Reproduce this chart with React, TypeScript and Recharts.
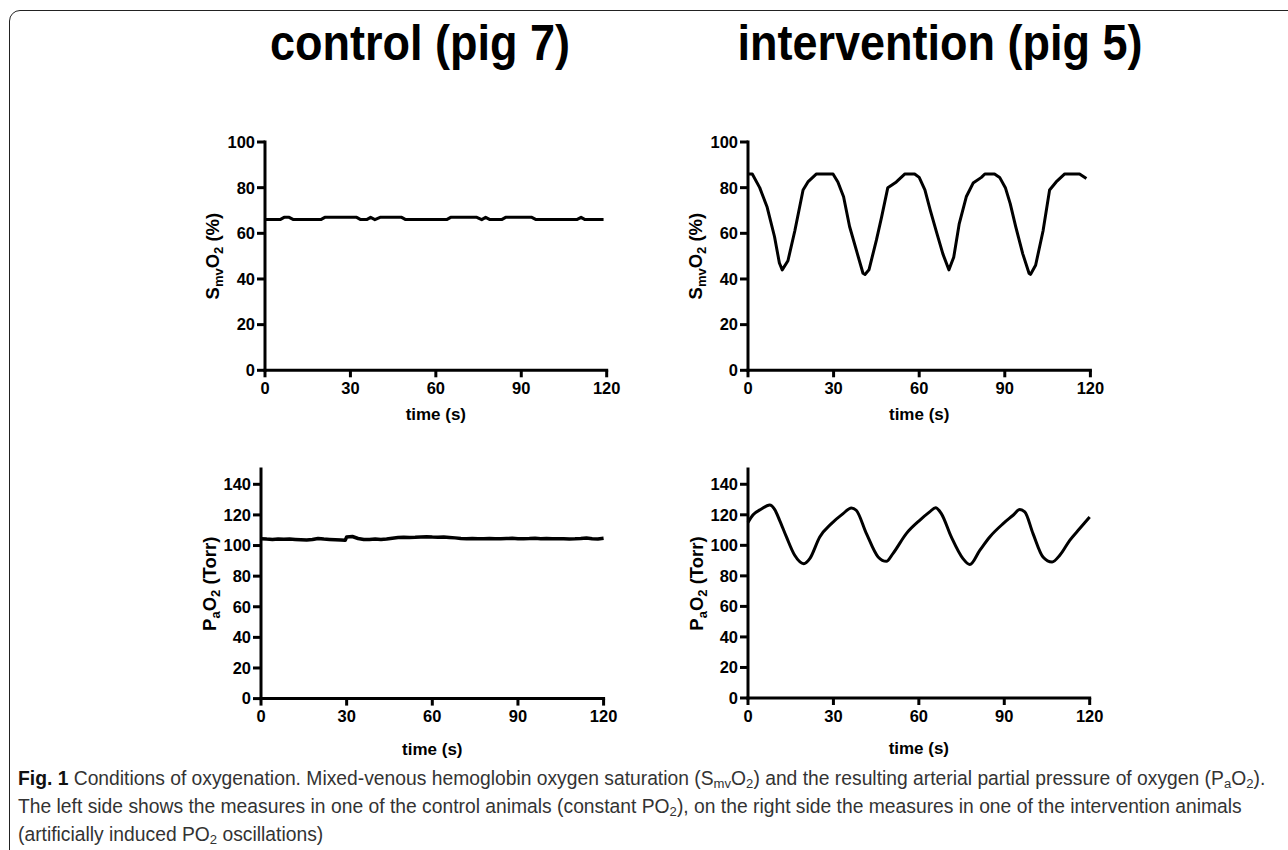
import React from 'react';
import { LineChart, Line, XAxis, YAxis, Label } from 'recharts';

// ---------- data ----------
const xTicks = [0, 30, 60, 90, 120];
const smvTicks = [0, 20, 40, 60, 80, 100];
const paTicks = [0, 20, 40, 60, 80, 100, 120, 140];

const ctrlSmvTime = [0, 5.3, 6.7, 8.5, 10, 19.6, 21, 32.2, 33.6, 35.7, 37.1, 38.6, 40.4, 48, 49.4, 63.8, 65.2, 74.4, 76.1, 77.5, 79, 83.1, 84.5, 93.7, 95.2, 109.5, 111, 112.4, 118.9];
const ctrlSmvValue = [66, 66, 67, 67, 66, 66, 67, 67, 66, 66, 67, 66, 67, 67, 66, 66, 67, 67, 66, 67, 66, 66, 67, 67, 66, 66, 67, 66, 66];

const intSmvTime = [0, 1.5, 4.1, 6.7, 9.3, 11, 12, 14, 16.4, 19.3, 21, 24, 29.8, 31.5, 33.5, 35.6, 38, 40.3, 41, 42.4, 45, 46.8, 49, 52, 55, 58.4, 60, 62, 63.9, 66.2, 68.3, 70.4, 72.1, 74, 76.5, 78.9, 81.8, 83, 86.4, 88.2, 90.2, 91.9, 93.8, 96.3, 98.5, 99, 100.8, 103.4, 105.7, 108, 111, 116.2, 118.6];
const intSmvValue = [86, 86, 80, 71.5, 58.5, 47, 44, 48, 61, 79, 82.5, 86, 86, 82.5, 76, 63, 52.5, 42.5, 42, 44, 57, 67, 80, 82.5, 86, 86, 84.5, 79, 70, 60, 51, 44, 49.5, 64, 76, 82, 84.5, 86, 86, 84.5, 80, 73, 63, 51, 42.5, 42, 46, 61, 79, 82.5, 86, 86, 84];

const ctrlPaTime = [0, 2, 4, 6, 8, 10, 12, 14, 16, 18, 20, 22, 24, 26, 28, 29.5, 30, 32, 34, 36, 38, 40, 42, 44, 46, 48, 50, 52, 54, 56, 58, 60, 62, 64, 66, 68, 70, 72, 74, 76, 78, 80, 82, 84, 86, 88, 90, 92, 94, 96, 98, 100, 102, 104, 106, 108, 110, 112, 114, 116, 118, 120];
const ctrlPaValue = [104.5, 104.2, 104.0, 104.3, 104.1, 104.2, 104.0, 103.8, 103.6, 103.9, 104.6, 104.2, 104.0, 103.8, 103.6, 103.4, 105.6, 105.9, 104.6, 103.9, 104.0, 104.2, 103.9, 104.3, 104.8, 105.2, 105.4, 105.3, 105.4, 105.6, 105.7, 105.5, 105.4, 105.6, 105.3, 105.0, 104.6, 104.5, 104.6, 104.4, 104.5, 104.6, 104.4, 104.5, 104.6, 104.7, 104.4, 104.5, 104.6, 104.8, 104.5, 104.6, 104.4, 104.5, 104.4, 104.3, 104.4, 104.6, 104.9, 104.5, 104.3, 104.8];

const intPaTime = [0, 1.8, 4.7, 7.6, 9.4, 11.1, 13.5, 16.4, 19.6, 21.7, 25.2, 29.3, 33.4, 36.3, 38, 41.6, 45.7, 48.6, 50.9, 55.6, 60.3, 63.8, 65.9, 67.9, 71.4, 75.5, 77.9, 81.4, 84.9, 89.6, 93.1, 95.4, 97.2, 100.1, 103.6, 106.8, 109.5, 113, 116.5, 120];
const intPaValue = [115, 120, 123.8, 126.4, 123.4, 116.4, 105.5, 93.5, 88, 91.3, 105.5, 114.2, 120.8, 124.5, 123, 107.7, 92.4, 89.5, 94.6, 107.7, 116.4, 121.9, 124.7, 120.8, 105.5, 91.3, 87.4, 96.7, 105.5, 114.2, 119.7, 123.4, 121.9, 107.7, 92.4, 89.1, 93.5, 103.3, 111, 118.6];

const zip = (t: number[], v: number[]) => t.map((x, i) => ({ t: x, v: v[i] }));

const AX = '"Liberation Sans", Arial, sans-serif';

type PanelProps = {
  plotLeft: number; plotTop: number; plotW: number; plotH: number;
  data: { t: number; v: number }[];
  yDomain: [number, number]; yTicks: number[];
  yLabel: 'smv' | 'pa';
  yLabelOffset: number;
  xLabelOffset: number;
  curve: 'linear' | 'monotone';
  lineWidth: number;
};

function Panel(p: PanelProps) {
  const ml = 110, mt = 20, mr = 30, mb = 75;
  const cx = ml - p.yLabelOffset;
  const cy = mt + p.plotH / 2;
  const yLab = () => (
    <text transform={`translate(${cx},${cy}) rotate(-90)`} x={0} y={0} textAnchor="middle"
      fontFamily={AX} fontWeight={700} fontSize={18.5} fill="#000">
      {p.yLabel === 'smv' ? (
        <>
          <tspan>S</tspan><tspan fontSize={13} dy={4}>mv</tspan><tspan dy={-4}>O</tspan>
          <tspan fontSize={13} dy={4}>2</tspan><tspan dy={-4}>{' (%)'}</tspan>
        </>
      ) : (
        <>
          <tspan>P</tspan><tspan fontSize={13} dy={4}>a</tspan><tspan dy={-4}>O</tspan>
          <tspan fontSize={13} dy={4}>2</tspan><tspan dy={-4}>{' (Torr)'}</tspan>
        </>
      )}
    </text>
  );
  const xLab = () => (
    <text x={ml + p.plotW / 2} y={mt + p.plotH + p.xLabelOffset} textAnchor="middle"
      fontFamily={AX} fontWeight={700} fontSize={17} fill="#000">time (s)</text>
  );
  return (
    <div style={{ position: 'absolute', left: p.plotLeft - ml, top: p.plotTop - mt }}>
      <LineChart width={ml + p.plotW + mr} height={mt + p.plotH + mb} data={p.data}
        margin={{ top: mt, right: mr, left: 0, bottom: 0 }}>
        <XAxis dataKey="t" type="number" domain={[0, 120]} ticks={xTicks} height={mb}
          axisLine={{ stroke: '#000', strokeWidth: 3, strokeLinecap: 'square' }}
          tickLine={{ stroke: '#000', strokeWidth: 3 }} tickSize={7} tickMargin={5}
          tick={{ fill: '#000', fontSize: 16.5, fontWeight: 700, fontFamily: AX }} interval={0}>
          <Label content={xLab} />
        </XAxis>
        <YAxis type="number" domain={p.yDomain} ticks={p.yTicks} width={ml} allowDataOverflow
          axisLine={{ stroke: '#000', strokeWidth: 3, strokeLinecap: 'square' }}
          tickLine={{ stroke: '#000', strokeWidth: 3 }} tickSize={8} tickMargin={2}
          tick={{ fill: '#000', fontSize: 16.5, fontWeight: 700, fontFamily: AX }} interval={0}>
          <Label content={yLab} />
        </YAxis>
        <Line dataKey="v" type={p.curve} stroke="#000" strokeWidth={p.lineWidth} dot={false}
          isAnimationActive={false} strokeLinejoin="round" />
      </LineChart>
    </div>
  );
}

const Sub = ({ children }: { children: React.ReactNode }) => (
  <span style={{ fontSize: '0.68em', verticalAlign: '-0.25em', lineHeight: 0 }}>{children}</span>
);

const titleStyle: React.CSSProperties = {
  position: 'absolute', width: 600, top: 18, textAlign: 'center', fontFamily: AX, fontWeight: 700,
  fontSize: 50, lineHeight: 1, color: '#000', whiteSpace: 'nowrap', transform: 'scaleX(0.9)',
  transformOrigin: 'center',
};

export default function App() {
  return (
    <div style={{ position: 'absolute', left: 0, top: 0, width: 1288, height: 850, background: '#fff', overflow: 'hidden' }}>
      <div style={{ position: 'absolute', left: 9, top: 10, width: 1320, height: 900, border: '1.5px solid #222', borderTopLeftRadius: 11, boxSizing: 'border-box' }} />
      <div style={{ ...titleStyle, left: 120 }}>control (pig 7)</div>
      <div style={{ ...titleStyle, left: 640 }}>intervention (pig 5)</div>

      <Panel plotLeft={265} plotTop={141.7} plotW={341.7} plotH={228.3} data={zip(ctrlSmvTime, ctrlSmvValue)}
        yDomain={[0, 100]} yTicks={smvTicks} yLabel="smv" yLabelOffset={46} xLabelOffset={50} curve="linear" lineWidth={3} />
      <Panel plotLeft={748.3} plotTop={141.7} plotW={342.4} plotH={228.3} data={zip(intSmvTime, intSmvValue)}
        yDomain={[0, 100]} yTicks={smvTicks} yLabel="smv" yLabelOffset={46} xLabelOffset={50} curve="linear" lineWidth={3} />
      <Panel plotLeft={260.7} plotTop={468.7} plotW={342.6} plotH={229.6} data={zip(ctrlPaTime, ctrlPaValue)}
        yDomain={[0, 150]} yTicks={paTicks} yLabel="pa" yLabelOffset={45} xLabelOffset={56} curve="linear" lineWidth={3.5} />
      <Panel plotLeft={748.3} plotTop={468.7} plotW={341.7} plotH={229} data={zip(intPaTime, intPaValue)}
        yDomain={[0, 150]} yTicks={paTicks} yLabel="pa" yLabelOffset={45} xLabelOffset={56} curve="monotone" lineWidth={3} />

      <div style={{ position: 'absolute', left: 18, top: 765, width: 1268, fontFamily: AX, fontSize: 19.3, lineHeight: '28px', color: '#333', whiteSpace: 'nowrap' }}>
        <div><b style={{ color: '#111' }}>Fig. 1</b> Conditions of oxygenation. Mixed-venous hemoglobin oxygen saturation (S<Sub>mv</Sub>O<Sub>2</Sub>) and the resulting arterial partial pressure of oxygen (P<Sub>a</Sub>O<Sub>2</Sub>).</div>
        <div>The left side shows the measures in one of the control animals (constant PO<Sub>2</Sub>), on the right side the measures in one of the intervention animals</div>
        <div>(artificially induced PO<Sub>2</Sub> oscillations)</div>
      </div>
    </div>
  );
}
